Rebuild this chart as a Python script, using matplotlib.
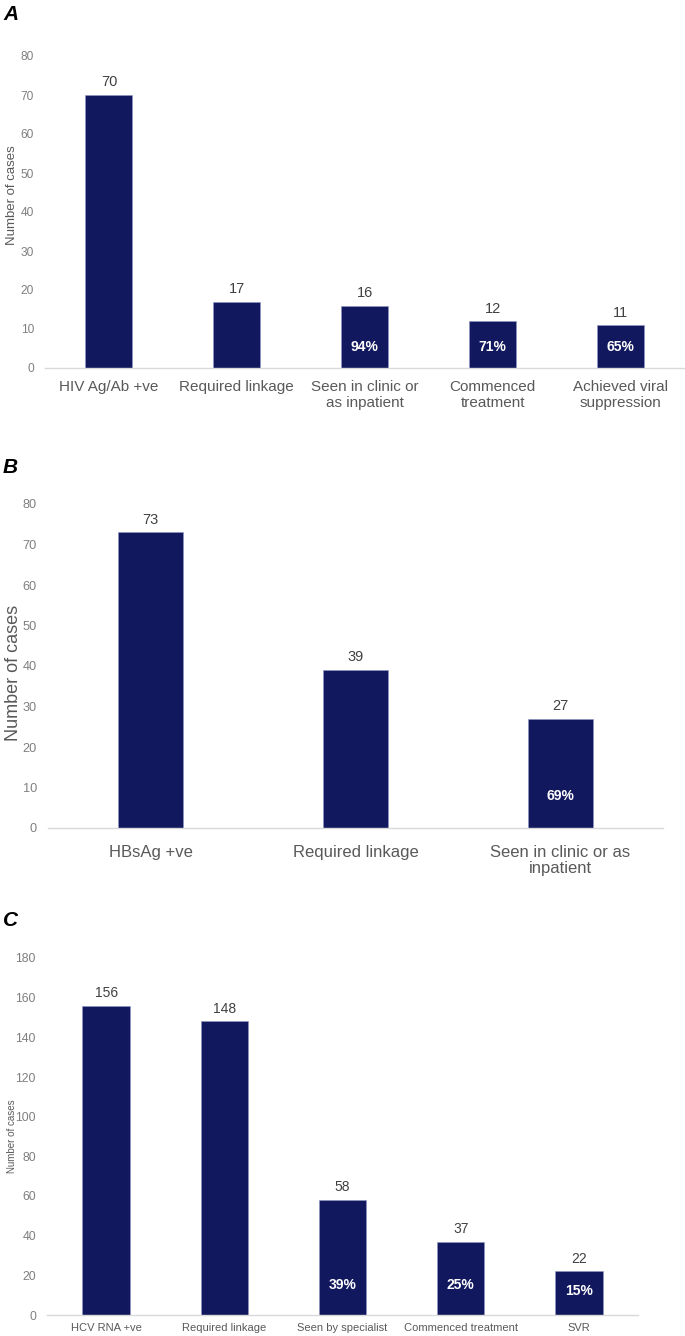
import matplotlib
matplotlib.use('Agg')
import matplotlib.pyplot as plt

plt.rcParams['font.family'] = ['Liberation Sans', 'DejaVu Sans']

# panel A - HIV cascade
a_labels = ['HIV Ag/Ab +ve', 'Required linkage', 'Seen in clinic or\nas inpatient',
            'Commenced\ntreatment', 'Achieved viral\nsuppression']
a_counts = [70, 17, 16, 12, 11]
a_pcts = ['', '', '94%', '71%', '65%']

# panel B - HBV cascade
b_labels = ['HBsAg +ve', 'Required linkage', 'Seen in clinic or as\ninpatient']
b_counts = [73, 39, 27]
b_pcts = ['', '', '69%']

# panel C - HCV cascade
c_labels = ['HCV RNA +ve', 'Required linkage', 'Seen by specialist',
            'Commenced treatment', 'SVR']
c_counts = [156, 148, 58, 37, 22]
c_pcts = ['', '', '39%', '25%', '15%']

W, H = 685, 1336
BAR = '#12185e'

fig = plt.figure(figsize=(W / 100, H / 100), dpi=100)


def px_axes(left, top, right, bottom):
    return fig.add_axes([left / W, 1 - bottom / H, (right - left) / W, (bottom - top) / H])


def panel(ax, labels, counts, pcts, pct_y, ymax, ystep, width,
          xfs, xpad, tfs, vfs, yfs, ylab_y, ylab_x):
    x = range(len(counts))
    ax.bar(x, counts, width=width, color=BAR, edgecolor='#8f96c0', linewidth=0.4, zorder=2)
    ax.set_xlim(-0.5, len(counts) - 0.5)
    ax.set_ylim(0, ymax)
    ax.set_yticks(range(0, ymax + 1, ystep))
    ax.set_xticks(list(x))
    ax.set_xticklabels(labels, fontsize=xfs, color='#595959', linespacing=1.15)
    ax.tick_params(axis='x', length=0, pad=xpad)
    ax.tick_params(axis='y', length=0, pad=8, labelsize=tfs, labelcolor='#7f7f7f')
    for s in ['top', 'right', 'left']:
        ax.spines[s].set_visible(False)
    ax.spines['bottom'].set_color('#d9d9d9')
    ax.spines['bottom'].set_linewidth(1.0)
    for i, v in enumerate(counts):
        ax.annotate(str(v), (i, v), xytext=(0, 4), textcoords='offset points',
                    ha='center', va='bottom', fontsize=vfs, color='#404040')
        if pcts[i]:
            ax.text(i, pct_y[i], pcts[i], ha='center', va='center', fontsize=10,
                    fontweight='bold', color='white', zorder=3)
    ax.set_ylabel('Number of cases', fontsize=yfs, color='#595959')
    ax.yaxis.set_label_coords(ylab_x, ylab_y)


axA = px_axes(45, 56, 684.5, 368)
panel(axA, a_labels, a_counts, a_pcts, [0, 0, 5.4, 5.4, 5.4], 80, 10, 0.367,
      11, 9, 8.6, 10.5, 9.5, 0.555, -0.042)

axB = px_axes(48, 504, 663, 828)
panel(axB, b_labels, b_counts, b_pcts, [0, 0, 7.9], 80, 10, 0.317,
      12, 12, 9.2, 10.5, 13, 0.48, -0.042)

axC = px_axes(47, 958, 638, 1315)
panel(axC, c_labels, c_counts, c_pcts, [0, 0, 15.1, 15.1, 12.1], 180, 20, 0.40,
      8, 6, 8.8, 10, 7, 0.5, -0.05)

for letter, ypx in [('A', 5), ('B', 458), ('C', 911)]:
    fig.text(3 / W, 1 - ypx / H, letter, fontsize=15, fontweight='bold',
             fontstyle='italic', va='top', ha='left', color='black')

fig.savefig('out.png', dpi=100)
